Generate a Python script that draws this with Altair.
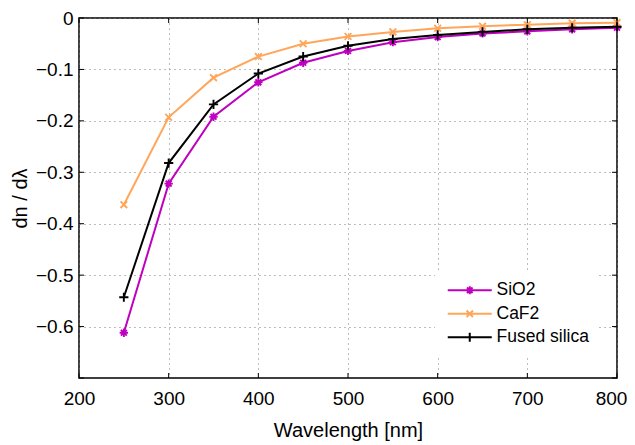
import altair as alt
import pandas as pd

# ---- data ----
wavelength = [250, 300, 350, 400, 450, 500, 550, 600, 650, 700, 750, 800]
sio2 = [-0.612, -0.322, -0.192, -0.125, -0.087, -0.064, -0.047, -0.037, -0.030, -0.026, -0.022, -0.019]
caf2 = [-0.363, -0.193, -0.116, -0.075, -0.050, -0.036, -0.027, -0.020, -0.016, -0.013, -0.010, -0.009]
fused = [-0.543, -0.282, -0.168, -0.108, -0.075, -0.054, -0.041, -0.033, -0.027, -0.022, -0.019, -0.017]

series_names = ["SiO2", "CaF2", "Fused silica"]
series_colors = ["#bf00bf", "#ffa65a", "#000000"]

x_ticks = [200, 300, 400, 500, 600, 700, 800]
y_ticks = [0, -0.1, -0.2, -0.3, -0.4, -0.5, -0.6, -0.7]
y_labels = [0, -0.1, -0.2, -0.3, -0.4, -0.5, -0.6]

# marker shapes (plot) and legend symbols (line + marker)
marker_paths = [
    "M-1,0H1M0,-1V1M-0.7,-0.7L0.7,0.7M-0.7,0.7L0.7,-0.7",
    "M-0.8,-0.8L0.8,0.8M-0.8,0.8L0.8,-0.8",
    "M-1.1,0H1.1M0,-1.1V1.1",
]
legend_paths = [
    "M-4.4,0H4.4M-0.8,0H0.8M0,-0.8V0.8M-0.56,-0.56L0.56,0.56M-0.56,0.56L0.56,-0.56",
    "M-4.4,0H4.4M-0.64,-0.64L0.64,0.64M-0.64,0.64L0.64,-0.64",
    "M-4.4,0H4.4M0,-0.9V0.9",
]

rows = []
for name, vals in zip(series_names, [sio2, caf2, fused]):
    for w, v in zip(wavelength, vals):
        rows.append({"wavelength": w, "dndl": v, "series": name})
df = pd.DataFrame(rows)

FONT = "Liberation Sans"
W, H = 538, 360

x_scale = alt.Scale(domain=[200, 800], nice=False)
y_scale = alt.Scale(domain=[-0.7, 0], nice=False, zero=False)
color_scale = alt.Scale(domain=series_names, range=series_colors)

x_axis = alt.Axis(
    values=x_ticks, grid=True, gridDash=[1, 4], gridColor="#7a7a7a", gridWidth=1,
    domain=False, ticks=False, tickSize=0, labelPadding=11, labelFlush=False,
    labelOffset={"condition": {"test": "datum.value == 800", "value": -6}, "value": 0},
    labelFont=FONT, labelFontSize=19, labelColor="black", format="d",
    title="Wavelength [nm]", titleFont=FONT, titleFontSize=20,
    titleFontWeight="normal", titleColor="black", titlePadding=12,
)
y_axis = alt.Axis(
    values=y_labels, grid=True, gridDash=[1, 4], gridColor="#7a7a7a", gridWidth=1,
    domain=False, ticks=False, tickSize=0, labelPadding=6, labelFlush=False,
    labelFont=FONT, labelFontSize=19, labelColor="black", format="~g",
    title="dn / dλ", titleFont=FONT, titleFontSize=20,
    titleFontWeight="normal", titleColor="black", titlePadding=5,
)

legend_kw = dict(
    title=None, orient="none", legendX=356, legendY=253.5, padding=10,
    fillColor="white", symbolSize=100, symbolStrokeWidth=2, symbolOffset=16,
    labelOffset=18, labelFont=FONT, labelFontSize=17.5, labelColor="black",
    rowPadding=4.5, symbolOpacity=1,
)

base = alt.Chart(df).encode(
    x=alt.X("wavelength:Q", scale=x_scale, axis=x_axis),
    y=alt.Y("dndl:Q", scale=y_scale, axis=y_axis),
)

line_layers = []
marker_layers = []
for name, col, path in zip(series_names, series_colors, marker_paths):
    sub = base.transform_filter(alt.datum.series == name)
    line_layers.append(
        sub.mark_line(strokeWidth=2, color=col).encode(order=alt.Order("wavelength:Q"))
    )
    marker_layers.append(
        sub.mark_point(shape=path, filled=False, size=70, strokeWidth=1.9,
                       opacity=1, color=col)
    )

legend_layer = base.mark_point(filled=False, opacity=0, strokeWidth=2).encode(
    color=alt.Color("series:N", scale=color_scale, legend=alt.Legend(**legend_kw)),
    shape=alt.Shape("series:N", scale=alt.Scale(domain=series_names, range=legend_paths),
                    legend=alt.Legend(**legend_kw)),
)

# inward tick marks on all four sides
xt = pd.DataFrame({"t": x_ticks})
yt = pd.DataFrame({"t": y_ticks})
tick_bottom = alt.Chart(xt).mark_rule(color="black", strokeWidth=1).encode(
    x=alt.X("t:Q", scale=x_scale, axis=x_axis), y=alt.value(H), y2=alt.value(H - 5))
tick_top = alt.Chart(xt).mark_rule(color="black", strokeWidth=1).encode(
    x=alt.X("t:Q", scale=x_scale, axis=x_axis), y=alt.value(0), y2=alt.value(5))
tick_left = alt.Chart(yt).mark_rule(color="black", strokeWidth=1).encode(
    y=alt.Y("t:Q", scale=y_scale, axis=y_axis), x=alt.value(0), x2=alt.value(5))
tick_right = alt.Chart(yt).mark_rule(color="black", strokeWidth=1).encode(
    y=alt.Y("t:Q", scale=y_scale, axis=y_axis), x=alt.value(W - 5), x2=alt.value(W))

chart = alt.layer(
    *line_layers, *marker_layers, legend_layer,
    tick_bottom, tick_top, tick_left, tick_right
).properties(
    width=W, height=H, background="white",
    autosize=alt.AutoSizeParams(type="none"),
    padding={"left": 71, "top": 10, "right": 10, "bottom": 66},
).configure_view(
    stroke="black", strokeWidth=1.5,
)

chart.save("out.html", embed_options={"renderer": "svg", "actions": False})
